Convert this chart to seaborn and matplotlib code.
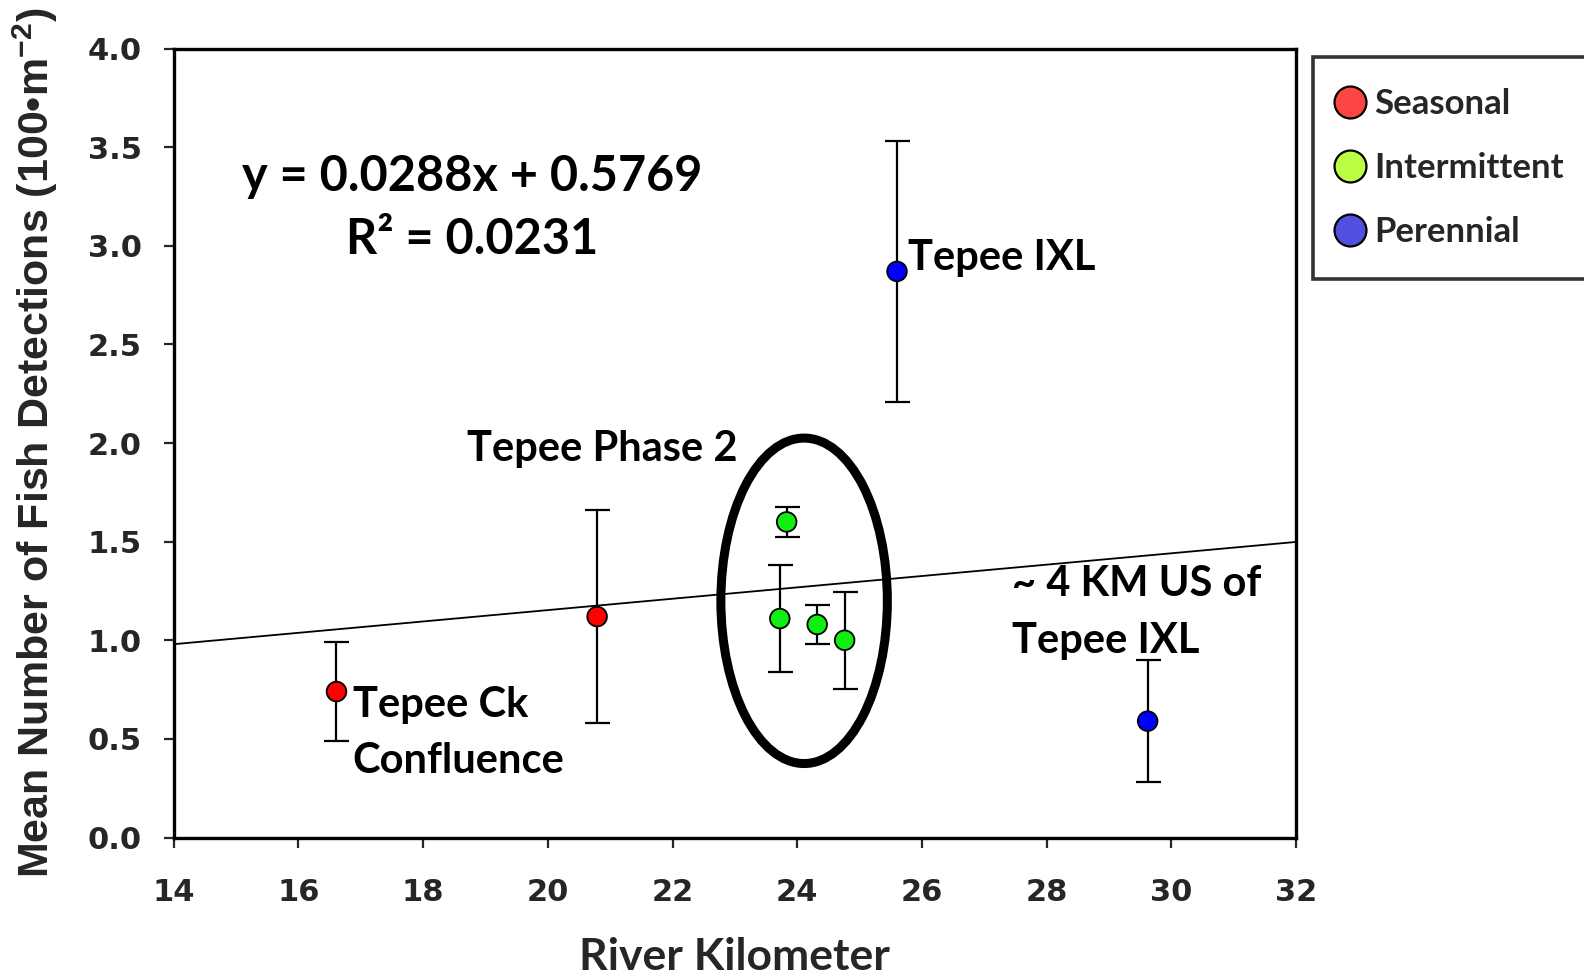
import matplotlib
matplotlib.use("Agg")
import matplotlib.pyplot as plt
from matplotlib.patches import Ellipse
from matplotlib.lines import Line2D
import numpy as np
import pandas as pd
import seaborn as sns

# River kilometre of each monitoring site, mean detections and error
river_km = [16.61, 20.79, 23.83, 23.72, 24.32, 24.76, 25.60, 29.62]
mean_detections = [0.74, 1.12, 1.60, 1.11, 1.08, 1.00, 2.87, 0.59]
error = [0.25, 0.54, 0.075, 0.27, 0.10, 0.245, 0.66, 0.31]
flow_type = ["Seasonal", "Seasonal", "Intermittent", "Intermittent",
             "Intermittent", "Intermittent", "Perennial", "Perennial"]

categories = ["Seasonal", "Intermittent", "Perennial"]
point_colors = {"Seasonal": "#ff0000", "Intermittent": "#11ee11", "Perennial": "#0000ff"}
legend_colors = {"Seasonal": "#ff4444", "Intermittent": "#bbff44", "Perennial": "#5050e0"}

# Linear fit reported on the chart
slope = 0.0288
intercept = 0.5769
r_squared = 0.0231

x_ticks = [14, 16, 18, 20, 22, 24, 26, 28, 30, 32]
y_ticks = [0.0, 0.5, 1.0, 1.5, 2.0, 2.5, 3.0, 3.5, 4.0]

df = pd.DataFrame({"km": river_km, "mean": mean_detections, "err": error, "flow": flow_type})

sns.set_style("ticks")
plt.rcParams["font.family"] = ["DejaVu Sans"]
plt.rcParams["mathtext.fontset"] = "custom"
plt.rcParams["mathtext.rm"] = "Liberation Sans"
plt.rcParams["mathtext.bf"] = "Liberation Sans:bold"

fig = plt.figure(figsize=(15.84, 9.8), dpi=100)
ax = fig.add_axes([0.1097, 0.1454, 0.7085, 0.8051])

# Fitted trend line across the full x range
xl = np.array([x_ticks[0], x_ticks[-1]])
ax.plot(xl, slope * xl + intercept, color="black", lw=1.3, zorder=1)

# Error bars
ax.errorbar(df["km"], df["mean"], yerr=df["err"], fmt="none", ecolor="black",
            elinewidth=1.6, capsize=9, capthick=1.6, zorder=2)

sns.scatterplot(data=df, x="km", y="mean", hue="flow", palette=point_colors,
                s=200, edgecolor="black", linewidth=1.3, legend=False, ax=ax, zorder=3)

# Group outline around the Tepee Phase 2 sites
ax.add_patch(Ellipse((24.11, 1.20), width=2.67, height=1.65, fill=False,
                     edgecolor="black", lw=6.5, zorder=4))

ax.set_xlim(x_ticks[0], x_ticks[-1])
ax.set_ylim(y_ticks[0], y_ticks[-1])
ax.set_xticks(x_ticks)
ax.set_yticks(y_ticks)
ax.set_xticklabels([str(t) for t in x_ticks])
ax.set_yticklabels([f"{t:.1f}" for t in y_ticks])
for spine in ax.spines.values():
    spine.set_linewidth(2.4)
    spine.set_color("black")
ax.tick_params(axis="x", direction="out", length=7, width=1.6, pad=22,
               labelsize=22)
ax.tick_params(axis="y", direction="out", length=7, width=1.6, pad=16,
               labelsize=22)
for lab in ax.get_xticklabels() + ax.get_yticklabels():
    lab.set_fontweight("bold")

ax.set_xlabel("River Kilometer", family=["Lato", "DejaVu Sans"], fontsize=32,
              fontweight="bold", labelpad=22)
ax.set_ylabel(r"Mean Number of Fish Detections (100•m$^{\mathbf{-2}}$)",
              family=["Liberation Sans", "DejaVu Sans"], fontsize=31,
              fontweight="bold", labelpad=20)

txt = dict(family=["Lato", "DejaVu Sans"], fontweight="bold", color="black")
ax.text(18.78, 3.35, f"y = {slope}x + {intercept}", ha="center", va="center",
        fontsize=35, **txt)
ax.text(18.78, 3.03, f"R² = {r_squared}", ha="center", va="center",
        fontsize=35, **txt)
ax.text(25.78, 2.94, "Tepee IXL", ha="left", va="center", fontsize=30, **txt)
ax.text(18.71, 1.97, "Tepee Phase 2", ha="left", va="center", fontsize=30, **txt)
ax.text(16.87, 0.53, "Tepee Ck\nConfluence", ha="left", va="center",
        linespacing=1.6, fontsize=30, **txt)
ax.text(27.45, 1.14, "~ 4 KM US of\nTepee IXL", ha="left", va="center",
        linespacing=1.6, fontsize=30, **txt)

handles = [Line2D([0], [0], marker="o", linestyle="none", markersize=23,
                  markerfacecolor=legend_colors[c], markeredgecolor="black",
                  markeredgewidth=1.6, label=c) for c in categories]
leg = fig.legend(handles=handles, loc="upper left", bbox_to_anchor=(0.829, 0.942),
                 frameon=True, fancybox=False, handletextpad=0.55, labelspacing=0.92,
                 borderpad=0.9, handlelength=0.3, borderaxespad=0,
                 prop={"family": ["Lato", "DejaVu Sans"], "weight": "bold", "size": 25})
leg.get_frame().set_edgecolor("black")
leg.get_frame().set_linewidth(2.6)

fig.savefig("out.png", dpi=100)
